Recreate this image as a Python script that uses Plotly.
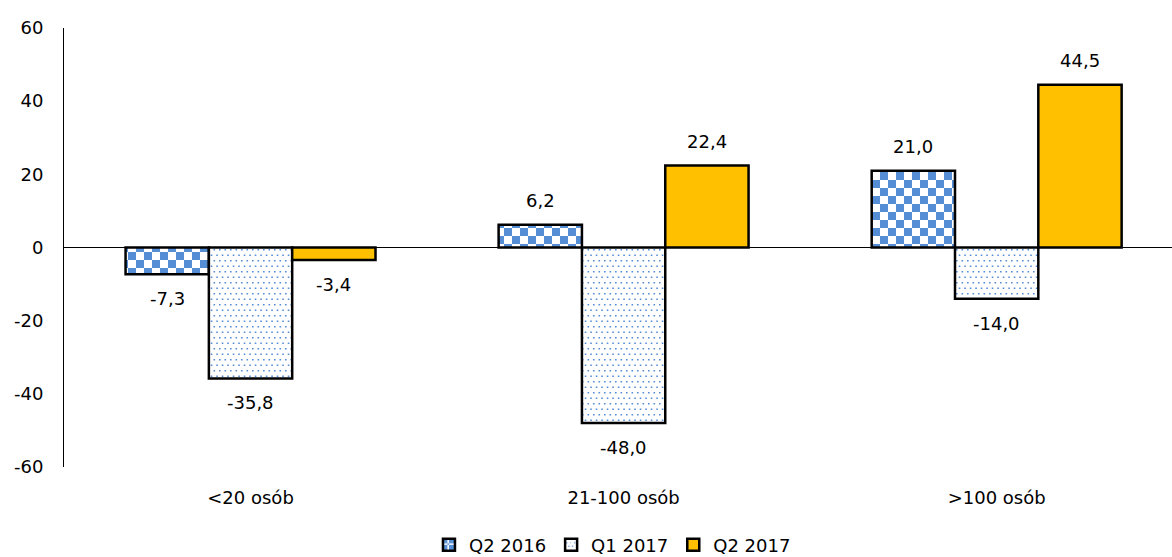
import plotly.graph_objects as go

categories = ["<20 osób", "21-100 osób", ">100 osób"]
series_names = ["Q2 2016", "Q1 2017", "Q2 2017"]
q2_2016 = [-7.3, 6.2, 21.0]
q1_2017 = [-35.8, -48.0, -14.0]
q2_2017 = [-3.4, 22.4, 44.5]
y_ticks = [-60, -40, -20, 0, 20, 40, 60]

FONT = "Tahoma, DejaVu Sans, Verdana, sans-serif"
BLUE = "#558ED5"
GOLD = "#FFC000"
BARGAP = 0.33

checker = dict(path="M0,0H8V8H0Z M8,8H16V16H8Z", size=16,
               fgcolor=BLUE, bgcolor="white", fillmode="replace")
dots = dict(path=("M1,1h1.6v1.6h-1.6Z M6.5,1h1.6v1.6h-1.6Z "
                  "M3.75,6.5h1.6v1.6h-1.6Z M9.25,6.5h1.6v1.6h-1.6Z"),
            size=11, fgcolor=BLUE, bgcolor="white", fillmode="replace")

series = [
    (series_names[0], q2_2016, dict(color="white", pattern=checker)),
    (series_names[1], q1_2017, dict(color="white", pattern=dots)),
    (series_names[2], q2_2017, dict(color=GOLD)),
]

fig = go.Figure()
annotations = []
n = len(series)
bw = (1 - BARGAP) / n
for si, (name, vals, marker) in enumerate(series):
    marker["line"] = dict(color="black", width=2.5)
    fig.add_trace(go.Bar(name=name, x=categories, y=vals, marker=marker))
    off = (si - (n - 1) / 2) * bw
    for ci, v in enumerate(vals):
        annotations.append(dict(
            x=ci + off, y=v, xref="x", yref="y",
            text=f"{v:.1f}".replace(".", ","), showarrow=False,
            yanchor="bottom" if v >= 0 else "top",
            yshift=12 if v >= 0 else -12,
            font=dict(family=FONT, size=18, color="black"),
        ))

fig.update_layout(
    width=1172, height=557, autosize=False,
    margin=dict(l=64, r=0, t=28, b=90, autoexpand=False),
    paper_bgcolor="white", plot_bgcolor="white",
    barmode="group", bargap=BARGAP, bargroupgap=0,
    font=dict(family=FONT, size=18, color="black"),
    showlegend=True,
    legend=dict(orientation="h", x=0.495, xanchor="center", y=-0.178, yanchor="middle",
                font=dict(family=FONT, size=18, color="black"),
                itemwidth=30, tracegroupgap=0, itemclick=False),
    annotations=annotations,
    xaxis=dict(range=[-0.5, 2.47], showgrid=False, showline=False, ticks="",
               tickfont=dict(family=FONT, size=18), zeroline=False,
               ticklabelstandoff=18),
    yaxis=dict(range=[-60, 60], tickvals=y_ticks, ticktext=[str(t) for t in y_ticks],
               showgrid=False,
               showline=True, linecolor="black", linewidth=1, ticks="",
               zeroline=True, zerolinecolor="black", zerolinewidth=1,
               tickfont=dict(family=FONT, size=18), ticklabelstandoff=16),
)

fig.write_html("out.html")
